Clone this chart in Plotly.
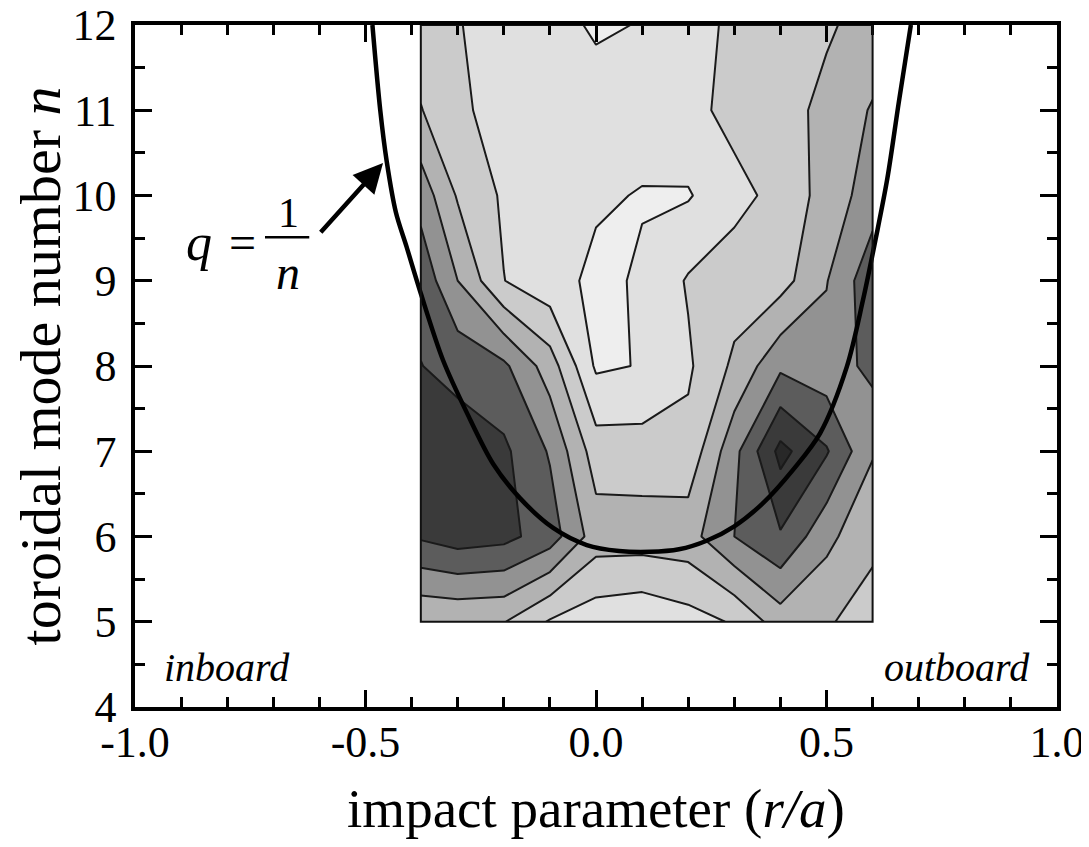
import plotly.graph_objects as go

# ---------------- data ----------------
# grid of the contour map (impact parameter r/a, toroidal mode number n)
x_grid = [-0.38, -0.3, -0.2, -0.1, 0.0, 0.1, 0.2, 0.3, 0.4, 0.5, 0.6]
n_grid = [5, 6, 7, 8, 9, 10, 11, 12]
# band index (0 = lightest ... 7 = darkest) read from the grey levels
z_n5 = [2.55, 2.6, 2.55, 1.4, 0.9, 0.7, 1.1, 1.6, 3.0, 2.56, 2.25]
z_n6 = [5.63, 6.0, 5.8, 5.0, 3.0, 3.0, 3.1, 4.5, 5.39, 3.8, 2.64]
z_n7 = [6.2, 6.0, 5.7, 4.4, 2.0, 1.95, 1.8, 4.2, 6.8, 5.6, 3.6]
z_n8 = [5.52, 5.2, 4.7, 3.0, 0.35, 0.55, 1.35, 2.7, 4.3, 3.9, 4.8]
z_n9 = [5.2, 3.5, 1.52, 0.85, 0.3, 0.6, 1.6, 2.0, 2.1, 3.45, 5.2]
z_n10 = [4.1, 2.4, 1.35, 1.0, 0.62, 0.45, 0.42, 1.2, 1.8, 2.9, 4.0]
z_n11 = [2.55, 1.65, 1.2, 1.0, 1.0, 0.9, 1.2, 1.8, 2.2, 2.7, 3.6]
z_n12 = [1.9, 1.55, 1.1, 0.9, 0.35, 0.55, 1.1, 1.7, 2.0, 2.4, 2.8]
z_rows = [z_n5, z_n6, z_n7, z_n8, z_n9, z_n10, z_n11, z_n12]

# q = 1/n resonance curve
curve_x = [-0.485, -0.468, -0.454, -0.434, -0.411, -0.38, -0.332, -0.28, -0.223,
           -0.165, -0.093, -0.02, 0.05, 0.117, 0.18, 0.24, 0.30, 0.36, 0.43,
           0.486, 0.544, 0.579, 0.607, 0.632, 0.657, 0.683]
curve_n = [12.0, 11.0, 10.4, 9.8, 9.4, 8.85, 8.07, 7.45, 6.85,
           6.45, 6.1, 5.9, 5.83, 5.82, 5.85, 5.95, 6.12, 6.38, 6.8,
           7.21, 7.99, 8.77, 9.5, 10.2, 11.1, 12.0]

x_tickvals = [-1.0, -0.5, 0.0, 0.5, 1.0]
x_ticktext = ["-1.0", "-0.5", "0.0", "0.5", "1.0"]
y_tickvals = [4, 5, 6, 7, 8, 9, 10, 11, 12]
y_ticktext = ["4", "5", "6", "7", "8", "9", "10", "11", "12"]

band_colors = ["#eeeeee", "#e0e0e0", "#cbcbcb", "#b2b2b2",
               "#929292", "#5c5c5c", "#3a3a3a", "#282828"]

SERIF = "Liberation Serif"

colorscale = [[i / (len(band_colors) - 1), c] for i, c in enumerate(band_colors)]

fig = go.Figure()
fig.add_trace(go.Contour(
    x=x_grid, y=n_grid, z=z_rows,
    contours=dict(start=0.5, end=6.5, size=1, coloring="fill"),
    colorscale=colorscale, showscale=False,
    line=dict(color="#1a1a1a", width=2, smoothing=0),
    hoverinfo="skip",
))

# frame around the contour block
fig.add_shape(type="rect", x0=min(x_grid), x1=max(x_grid), y0=min(n_grid), y1=max(n_grid),
              xref="x", yref="y", line=dict(color="#111", width=2), fillcolor="rgba(0,0,0,0)",
              layer="above")

fig.add_trace(go.Scatter(
    x=curve_x, y=curve_n, mode="lines",
    line=dict(color="black", width=4.5, shape="spline", smoothing=0.9),
    hoverinfo="skip", showlegend=False,
))

axis_common = dict(
    showline=True, linecolor="black", linewidth=3.5, mirror="allticks",
    ticks="inside", ticklen=17, tickwidth=3, tickcolor="black",
    showgrid=False, zeroline=False, automargin=False,
    ticklabeloverflow="allow",
    tickfont=dict(family=SERIF, size=44, color="black"),
)

fig.update_xaxes(
    range=[-1, 1], tickvals=x_tickvals, ticktext=x_ticktext,
    minor=dict(dtick=0.1, ticks="inside", ticklen=10, tickwidth=2.5, tickcolor="black", showgrid=False),
    title=dict(text="impact parameter (<i>r/a</i>)", font=dict(family=SERIF, size=55, color="black"),
               standoff=37),
    ticklabelstandoff=-7,
    **axis_common,
)
fig.update_yaxes(
    range=[4, 12], tickvals=y_tickvals, ticktext=y_ticktext,
    minor=dict(dtick=0.5, ticks="inside", ticklen=10, tickwidth=2.5, tickcolor="black", showgrid=False),
    title=dict(text="toroidal mode number <i>n</i>", font=dict(family=SERIF, size=58, color="black"),
               standoff=12),
    ticklabelstandoff=6,
    **axis_common,
)

annotations = [
    dict(x=-0.80, y=4.46, text="<i>inboard</i>", showarrow=False, font=dict(family=SERIF, size=40)),
    dict(x=0.783, y=4.46, text="<i>outboard</i>", showarrow=False, font=dict(family=SERIF, size=40)),
    dict(x=-0.862, y=9.45, text="<i>q</i>", showarrow=False, font=dict(family=SERIF, size=52)),
    dict(x=-0.766, y=9.45, text="=", showarrow=False, font=dict(family=SERIF, size=48)),
    dict(x=-0.668, y=9.80, text="1", showarrow=False, font=dict(family=SERIF, size=42)),
    dict(x=-0.668, y=9.10, text="<i>n</i>", showarrow=False, font=dict(family=SERIF, size=48)),
    dict(x=-0.462, y=10.38, ax=-0.600, ay=9.55, axref="x", ayref="y", xref="x", yref="y",
         text="", showarrow=True, arrowhead=2, arrowsize=1.3, arrowwidth=4.5, arrowcolor="black"),
]
fig.update_layout(annotations=annotations)
fig.add_shape(type="line", x0=-0.718, x1=-0.622, y0=9.51, y1=9.51, xref="x", yref="y",
              line=dict(color="black", width=2.5))

# the page adds an 8px body margin, so the figure is sized to fit inside the window
fig.update_layout(
    width=1073, height=831,
    margin=dict(l=127, r=24, t=17, b=132),
    paper_bgcolor="white", plot_bgcolor="white",
    showlegend=False,
    font=dict(family=SERIF, color="black"),
)

fig.write_html("out.html")
